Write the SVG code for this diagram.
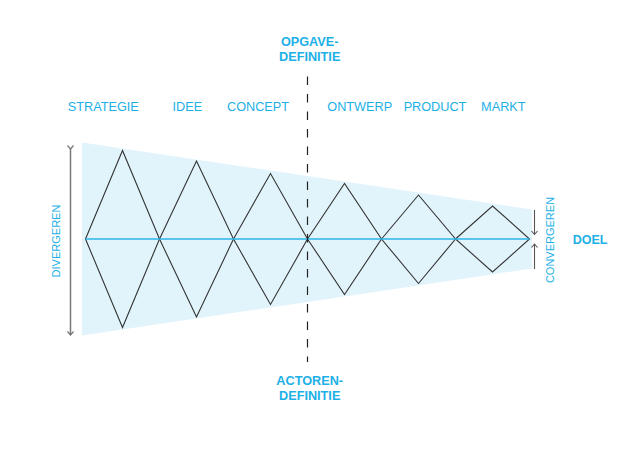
<svg xmlns="http://www.w3.org/2000/svg" width="639" height="451" viewBox="0 0 639 451">
<defs>
<marker id="ahg" viewBox="-5 -5 6 10" markerWidth="6" markerHeight="10" refX="0" refY="0" orient="auto" markerUnits="userSpaceOnUse">
<path d="M-3.5,-3 L0,0 L-3.5,3" fill="none" stroke="#777" stroke-width="1.2"/>
</marker>
<marker id="ahd" viewBox="-5 -5 6 10" markerWidth="6" markerHeight="10" refX="0" refY="0" orient="auto" markerUnits="userSpaceOnUse">
<path d="M-3.5,-3 L0,0 L-3.5,3" fill="none" stroke="#555" stroke-width="1.1"/>
</marker>
</defs>
<style>
.lbl{font-family:"Liberation Sans",Arial,sans-serif;font-size:12.7px;fill:#1cb0e6;text-anchor:middle}
.b{font-weight:bold}
.side{font-family:"Liberation Sans",Arial,sans-serif;font-size:11px;fill:#1cb0e6;text-anchor:middle}
.dia{fill:none;stroke:#333;stroke-width:1.1}
</style>
<rect width="639" height="451" fill="#fff"/>
<g id="funnel">
<polygon points="82,142.5 532,209.5 532,268.5 82,335.5" fill="#e1f4fc"/>
</g>
<g id="diamonds">
<polygon class="dia" points="85.5,239 122.5,150.5 159.5,239 122.5,327.5"/>
<polygon class="dia" points="159.5,239 196.5,161 233.5,239 196.5,317"/>
<polygon class="dia" points="233.5,239 270.5,173.5 307.5,239 270.5,304.5"/>
<polygon class="dia" points="307.5,239 344.5,183.5 381.5,239 344.5,294.5"/>
<polygon class="dia" points="381.5,239 418.5,195 455.5,239 418.5,283.5"/>
<polygon class="dia" points="455.5,239 492.5,206 529.5,239 492.5,272"/>
</g>
<g id="connectors">
<line x1="85.5" y1="239" x2="529.5" y2="239" stroke="#2bb5e8" stroke-width="1.6"/>
<line x1="307.5" y1="76.5" x2="307.5" y2="362" stroke="#222" stroke-width="1.2" stroke-dasharray="8.5 9"/>
<line x1="70.5" y1="149" x2="70.5" y2="335" stroke="#777" stroke-width="1.5" marker-start="url(#ahg)" marker-end="url(#ahg)"/>
<line x1="534.5" y1="210" x2="534.5" y2="234.5" stroke="#555" stroke-width="1.1" marker-end="url(#ahd)"/>
<line x1="534.5" y1="269" x2="534.5" y2="244" stroke="#555" stroke-width="1.1" marker-end="url(#ahd)"/>
</g>
<g id="opgave">
<text class="lbl b" x="309.7" y="46">OPGAVE-</text>
<text class="lbl b" x="309.7" y="60.7">DEFINITIE</text>
</g>
<g id="actoren">
<text class="lbl b" x="309.7" y="385">ACTOREN-</text>
<text class="lbl b" x="309.7" y="399.5">DEFINITIE</text>
</g>
<g id="stages">
<text class="lbl" x="103.3" y="110.5">STRATEGIE</text>
<text class="lbl" x="187.3" y="110.5">IDEE</text>
<text class="lbl" x="258" y="110.5">CONCEPT</text>
<text class="lbl" x="359.7" y="110.5">ONTWERP</text>
<text class="lbl" x="435" y="110.5">PRODUCT</text>
<text class="lbl" x="503.3" y="110.5">MARKT</text>
</g>
<g id="divergeren">
<text class="side" transform="translate(60,241) rotate(-90)">DIVERGEREN</text>
</g>
<g id="convergeren">
<text class="side" transform="translate(554,240) rotate(-90)">CONVERGEREN</text>
</g>
<g id="doel">
<text class="lbl b" x="590" y="243.5" style="font-size:12.5px">DOEL</text>
</g>
</svg>
